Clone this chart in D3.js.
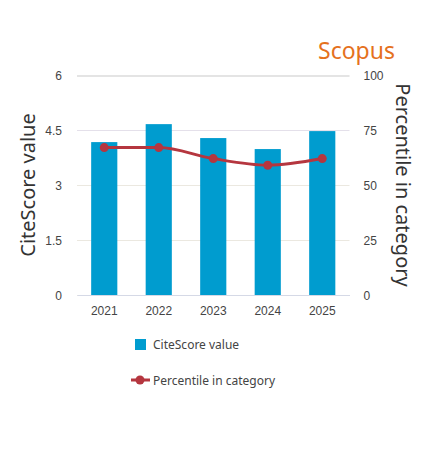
<!DOCTYPE html>
<html>
<head>
<meta charset="utf-8">
<style>
  html, body { margin: 0; padding: 0; background: #fff; }
  svg { display: block; font-family: "Noto Sans", sans-serif; }
</style>
<script src="https://cdn.jsdelivr.net/npm/d3@7"></script>
</head>
<body>
<svg id="chart" width="432" height="450"></svg>
<script>
const years = ['2021', '2022', '2023', '2024', '2025'];
const citeScore = [4.17, 4.66, 4.28, 3.98, 4.47];
const percentile = [67, 67, 62, 59, 62];
const leftTicks = [0, 1.5, 3, 4.5, 6];
const rightTicks = [0, 25, 50, 75, 100];

const svg = d3.select('#chart');
const plotLeft = 77, plotRight = 349.5, plotTop = 75, plotBottom = 295;
const blue = '#009ccf', red = '#b5363f', textColor = '#444';

const x = d3.scaleBand().domain(years).range([plotLeft, plotRight]).paddingInner(0.52).paddingOuter(0.26);
const yLeft = d3.scaleLinear().domain([0, 6]).range([plotBottom, plotTop]);
const yRight = d3.scaleLinear().domain([0, 100]).range([plotBottom, plotTop]);

const gridColor = d => {
  if (d === 6) return '#e4e4e4';
  if (d === 4.5) return '#e4e0ea';
  return '#ebe8e0';
};

// gridlines and left labels come from the left axis
const axisLeft = svg.append('g')
  .attr('transform', `translate(${plotLeft},0)`)
  .call(d3.axisLeft(yLeft).tickValues(leftTicks).tickFormat(d => d).tickSize(-(plotRight - plotLeft)).tickPadding(15));
axisLeft.select('.domain').remove();
axisLeft.selectAll('line')
  .attr('stroke', gridColor)
  .attr('stroke-width', d => (d === 6 ? 2 : 1))
  .attr('transform', d => (d === 6 ? 'translate(0,0.5)' : null));
axisLeft.selectAll('text').attr('font-size', 12).attr('fill', textColor).attr('y', 1);

const axisRight = svg.append('g')
  .attr('transform', `translate(${plotRight},0)`)
  .call(d3.axisRight(yRight).tickValues(rightTicks).tickSize(0).tickPadding(14));
axisRight.select('.domain').remove();
axisRight.selectAll('text').attr('font-size', 12).attr('fill', textColor).attr('y', 1);

const axisBottom = svg.append('g')
  .attr('transform', `translate(0,${plotBottom})`)
  .call(d3.axisBottom(x).tickSize(0).tickPadding(11));
axisBottom.select('.domain').attr('stroke', '#d5d9e6');
axisBottom.selectAll('text').attr('font-size', 12).attr('fill', textColor);

svg.append('g').selectAll('rect')
  .data(years)
  .join('rect')
  .attr('x', d => x(d))
  .attr('width', x.bandwidth())
  .attr('y', (d, i) => yLeft(citeScore[i]))
  .attr('height', (d, i) => plotBottom - yLeft(citeScore[i]))
  .attr('fill', blue);

const line = d3.line()
  .x((d, i) => x(years[i]) + x.bandwidth() / 2)
  .y(d => yRight(d))
  .curve(d3.curveMonotoneX);

svg.append('path')
  .attr('d', line(percentile))
  .attr('fill', 'none')
  .attr('stroke', red)
  .attr('stroke-width', 3);

svg.append('g').selectAll('circle')
  .data(percentile)
  .join('circle')
  .attr('cx', (d, i) => x(years[i]) + x.bandwidth() / 2)
  .attr('cy', d => yRight(d))
  .attr('r', 4.5)
  .attr('fill', red);

// title
svg.append('text')
  .attr('x', 395).attr('y', 59)
  .attr('text-anchor', 'end')
  .attr('font-size', 23)
  .attr('fill', '#e5711d')
  .text('Scopus');

// axis titles
svg.append('text')
  .attr('transform', 'translate(35,185) rotate(-90)')
  .attr('text-anchor', 'middle')
  .attr('font-size', 20)
  .attr('fill', '#333')
  .text('CiteScore value');

svg.append('text')
  .attr('transform', 'translate(396,185) rotate(90)')
  .attr('text-anchor', 'middle')
  .attr('font-size', 20)
  .attr('fill', '#333')
  .text('Percentile in category');

// legend
svg.append('rect').attr('x', 135).attr('y', 339).attr('width', 11).attr('height', 11).attr('fill', blue);
svg.append('text').attr('x', 153).attr('y', 349).attr('font-size', 12).attr('fill', textColor).text('CiteScore value');
svg.append('line').attr('x1', 131).attr('x2', 150).attr('y1', 380).attr('y2', 380).attr('stroke', red).attr('stroke-width', 3);
svg.append('circle').attr('cx', 140).attr('cy', 380).attr('r', 4.5).attr('fill', red);
svg.append('text').attr('x', 153).attr('y', 385).attr('font-size', 12).attr('fill', textColor).text('Percentile in category');
</script>
</body>
</html>
